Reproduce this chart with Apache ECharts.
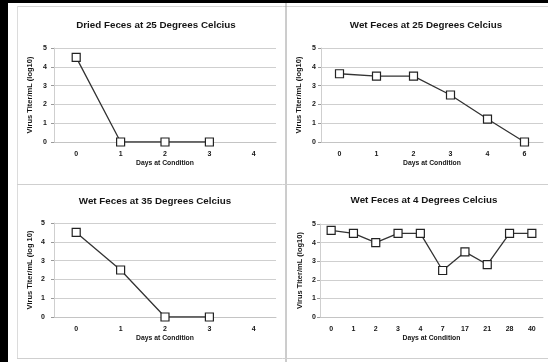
<!DOCTYPE html>
<html>
<head>
<meta charset="utf-8">
<script src="https://cdn.jsdelivr.net/npm/echarts@6/dist/echarts.min.js"></script>
<style>
html,body{margin:0;padding:0;background:#fff;}
#c{width:548px;height:362px;}
</style>
</head>
<body>
<div id="c"></div>
<script>
// ---- data ----
const titles = [
  'Dried Feces at 25 Degrees Celcius',
  'Wet Feces at 25 Degrees Celcius',
  'Wet Feces at 35 Degrees Celcius',
  'Wet Feces at 4 Degrees Celcius'
];
const yNames = [
  'Virus Titer/mL (log10)',
  'Virus Titer/mL (log10)',
  'Virus Titer/mL (log 10)',
  'Virus Titer/mL (log10)'
];
const xName = 'Days at Condition';
const dried25Days = ['0', '1', '2', '3', '4'];
const dried25Titer = [4.5, 0, 0, 0, null];
const wet25Days = ['0', '1', '2', '3', '4', '6'];
const wet25Titer = [3.63, 3.5, 3.5, 2.5, 1.22, 0];
const wet35Days = ['0', '1', '2', '3', '4'];
const wet35Titer = [4.5, 2.5, 0, 0, null];
const wet4Days = ['0', '1', '2', '3', '4', '7', '17', '21', '28', '40'];
const wet4Titer = [4.66, 4.5, 4.0, 4.5, 4.5, 2.5, 3.5, 2.82, 4.5, 4.5];
const yTicks = [0, 1, 2, 3, 4, 5];

// ---- layout ----
const FONT = '"Liberation Sans", Arial, sans-serif';
const TXT = '#151515';
const grids = [
  {left: 54, top: 48, width: 222, height: 94},
  {left: 321, top: 48, width: 222, height: 94},
  {left: 54, top: 223, width: 222, height: 94},
  {left: 320, top: 224, width: 223, height: 93}
];
const titlePos = [[151, 15], [421, 15], [150, 191], [419, 190]];
const yNameGap = [20, 18, 20, 16];
const yLabelMargin = [7, 5, 9, 4];
const cats = [dried25Days, wet25Days, wet35Days, wet4Days];
const vals = [dried25Titer, wet25Titer, wet35Titer, wet4Titer];

const option = {
  backgroundColor: '#fff',
  animation: false,
  title: titles.map((t, i) => ({
    text: t,
    left: titlePos[i][0],
    top: titlePos[i][1],
    textAlign: 'center',
    textStyle: {fontFamily: FONT, fontSize: 9.8, fontWeight: 'bold', color: TXT}
  })),
  grid: grids.map(g => Object.assign({containLabel: false}, g)),
  xAxis: cats.map((c, i) => ({
    type: 'category',
    gridIndex: i,
    data: c,
    boundaryGap: true,
    name: xName,
    nameLocation: 'middle',
    nameGap: 18,
    nameTextStyle: {fontFamily: FONT, fontSize: 6.8, fontWeight: 'bold', color: TXT},
    axisLine: {show: true, lineStyle: {color: '#c4c4c4', width: 1}},
    axisTick: {show: false},
    axisLabel: {fontFamily: FONT, fontSize: 7, fontWeight: 'bold', color: TXT, margin: 9, interval: 0},
    splitLine: {show: false}
  })),
  yAxis: cats.map((c, i) => ({
    type: 'value',
    gridIndex: i,
    min: yTicks[0],
    max: yTicks[yTicks.length - 1],
    interval: 1,
    name: yNames[i],
    nameLocation: 'middle',
    nameGap: yNameGap[i],
    nameTextStyle: {fontFamily: FONT, fontSize: 7.5, fontWeight: 'bold', color: TXT},
    axisLine: {show: true, lineStyle: {color: '#cfcfcf', width: 1}},
    axisTick: {show: true, length: 3, lineStyle: {color: '#999'}},
    axisLabel: {fontFamily: FONT, fontSize: 7, fontWeight: 'bold', color: TXT, margin: yLabelMargin[i]},
    splitLine: {show: true, lineStyle: {color: '#cfcfcf', width: 1}}
  })),
  series: vals.map((v, i) => ({
    type: 'line',
    xAxisIndex: i,
    yAxisIndex: i,
    data: v,
    symbol: 'rect',
    symbolSize: 8,
    showAllSymbol: true,
    lineStyle: {color: '#333', width: 1.3},
    itemStyle: {color: '#fff', borderColor: '#222', borderWidth: 1.2}
  })),
  graphic: [
    {type: 'rect', shape: {x: 0, y: 0, width: 8, height: 362}, style: {fill: '#000'}, silent: true},
    {type: 'rect', shape: {x: 0, y: 0, width: 548, height: 3}, style: {fill: '#000'}, silent: true},
    {type: 'line', shape: {x1: 17, y1: 6.5, x2: 548, y2: 6.5}, style: {stroke: '#d6d6d6', lineWidth: 1}, silent: true},
    {type: 'line', shape: {x1: 17.5, y1: 6, x2: 17.5, y2: 359}, style: {stroke: '#dcdcdc', lineWidth: 1}, silent: true},
    {type: 'line', shape: {x1: 286, y1: 3, x2: 286, y2: 362}, style: {stroke: '#9a9a9a', lineWidth: 1}, silent: true},
    {type: 'line', shape: {x1: 17, y1: 184.5, x2: 548, y2: 184.5}, style: {stroke: '#cfcfcf', lineWidth: 1}, silent: true},
    {type: 'line', shape: {x1: 17, y1: 358.5, x2: 548, y2: 358.5}, style: {stroke: '#cfcfcf', lineWidth: 1}, silent: true}
  ]
};

const chart = echarts.init(document.getElementById('c'), null, {renderer: 'canvas'});
chart.setOption(option);
</script>
</body>
</html>
